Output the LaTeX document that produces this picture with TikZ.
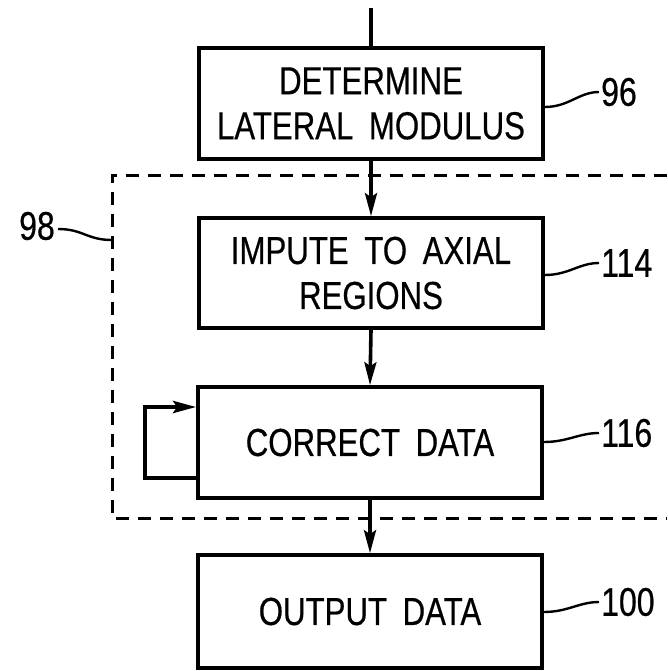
\documentclass[tikz,border=0pt]{standalone}
\usepackage{fontspec}
\setmainfont[FakeStretch=0.8,WordSpace=1.8,FakeBold=0.5]{Liberation Sans}
\usetikzlibrary{arrows.meta}
\tikzset{
  stepbox/.style={draw, line width=3.6pt, minimum width=344pt, inner sep=0pt,
    align=center, font=\fontsize{39}{45}\selectfont},
  reflabel/.style={anchor=west, inner sep=0pt, font=\fontsize{40}{45}\selectfont},
  flow/.style={line width=3.6pt, -{Stealth[length=23pt,width=12pt,inset=4pt]}},
  leader/.style={line width=2.4pt},
  dashbox/.style={line width=3pt, dash pattern=on 13pt off 9pt}
}
\begin{document}
\begin{tikzpicture}[x=1pt,y=-1pt]
\useasboundingbox (0,0) rectangle (667,671);
% boxes
\node[stepbox, minimum height=111pt] (b1) at (371,103.5) {DETERMINE\\LATERAL MODULUS};
\node[stepbox, minimum height=110pt] (b2) at (371,273) {IMPUTE TO AXIAL\\REGIONS};
\node[stepbox, minimum height=111pt] (b3) at (370,442.5) {CORRECT DATA};
\node[stepbox, minimum height=113pt] (b4) at (370,611.5) {OUTPUT DATA};
% dashed region
\draw[dashbox] (667,175) -- (112,175) -- (112,518) -- (667,518);
% reference labels
\node[reflabel] (l96) at (601,92) {96};
\node[reflabel] (l114) at (601,263) {114};
\node[reflabel] (l116) at (601,433) {116};
\node[reflabel] (l100) at (601,602) {100};
\node[reflabel, anchor=east] (l98) at (55,226) {98};
\coordinate (d98) at (112,240);
\coordinate (top) at (371,8);
% connectors
\draw[line width=3.6pt] (top) -- (b1.north);
\draw[flow] (b1.south) -- (b2.north);
\draw[flow] (b2.south) -- (b3.north);
\draw[flow] (b3.south) -- (b4.north);
\draw[flow, line width=4.2pt] ([yshift=-35.5pt]b3.west) -- ++(-51,0) |- ([yshift=35.5pt]b3.west);
% leaders
\draw[leader] ([yshift=-3.5pt]b1.east) .. controls +(24,0) and +(-20,0) .. ([xshift=-2pt]l96.west);
\draw[leader] ([yshift=-2pt]b2.east) .. controls +(24,0) and +(-20,0) .. ([xshift=-2pt]l114.west);
\draw[leader] ([yshift=0.5pt]b3.east) .. controls +(24,0) and +(-20,0) .. ([xshift=-2pt]l116.west);
\draw[leader] ([yshift=-0.5pt]b4.east) .. controls +(24,0) and +(-20,0) .. ([xshift=-2pt]l100.west);
\draw[leader] ([xshift=3pt,yshift=-3pt]l98.east) .. controls +(25,0) and +(-25,0) .. (d98);
\end{tikzpicture}
\end{document}
